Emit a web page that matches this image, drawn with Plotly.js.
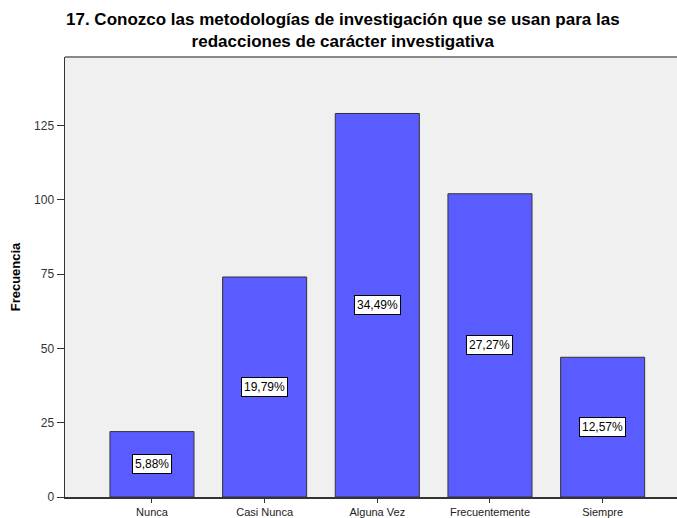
<!DOCTYPE html>
<html>
<head>
<meta charset="utf-8">
<script src="https://cdn.plot.ly/plotly-3.0.1.min.js"></script>
<style>html,body{margin:0;padding:0;background:#fff;}#chart{width:677px;height:518px;}</style>
</head>
<body>
<div id="chart"></div>
<script>
const categories = ["Nunca", "Casi Nunca", "Alguna Vez", "Frecuentemente", "Siempre"];
const frecuencia = [22, 74, 129, 102, 47];
const porcentajes = ["5,88%", "19,79%", "34,49%", "27,27%", "12,57%"];
const yTicks = [0, 25, 50, 75, 100, 125];
const titulo = "17. Conozco las metodologías de investigación que se usan para las<br>redacciones de carácter investigativa";

const FONT = "Arial, Liberation Sans, sans-serif";

const trace = {
  type: "bar",
  x: categories,
  y: frecuencia,
  width: 0.746,
  marker: {color: "#5a5cff", line: {color: "#333333", width: 1}},
  hoverinfo: "none"
};

const annotations = categories.map((c, i) => ({
  x: c, y: frecuencia[i] / 2, xref: "x", yref: "y",
  text: porcentajes[i], showarrow: false,
  font: {family: FONT, size: 12, color: "#000"},
  bgcolor: "#ffffff", bordercolor: "#000000", borderwidth: 1, borderpad: 2
}));

annotations.push({
  xref: "paper", yref: "paper", x: (343 - 65) / 612, y: 1,
  xanchor: "center", yanchor: "bottom", yshift: 4,
  text: titulo, showarrow: false, align: "center",
  font: {family: FONT, size: 17, color: "#000", weight: "bold"}
});

const layout = {
  width: 677, height: 518,
  margin: {l: 65, r: 0, t: 57, b: 21},
  paper_bgcolor: "#ffffff",
  plot_bgcolor: "#f0f0f0",
  showlegend: false,
  xaxis: {
    type: "category",
    range: [-0.772, 4.66],
    showline: true, linecolor: "#333333", linewidth: 1.5,
    ticks: "outside", ticklen: 4, tickcolor: "#333333", tickwidth: 1,
    tickfont: {family: FONT, size: 11, color: "#222"},
    showgrid: false, zeroline: false, fixedrange: true
  },
  yaxis: {
    range: [0, 148],
    tickvals: yTicks,
    showline: true, linecolor: "#333333", linewidth: 1.5,
    ticks: "outside", ticklen: 7, tickcolor: "#333333", tickwidth: 1,
    tickfont: {family: FONT, size: 12, color: "#333"},
    showgrid: false, zeroline: false, fixedrange: true,
    title: {text: "Frecuencia", font: {family: FONT, size: 13, color: "#000", weight: "bold"}, standoff: 10}
  },
  shapes: [{
    type: "line", xref: "paper", yref: "paper", x0: 0, x1: 1, y0: 1, y1: 1,
    line: {color: "#888888", width: 2}
  }],
  annotations: annotations
};

Plotly.newPlot("chart", [trace], layout, {displayModeBar: false, staticPlot: true});
</script>
</body>
</html>
